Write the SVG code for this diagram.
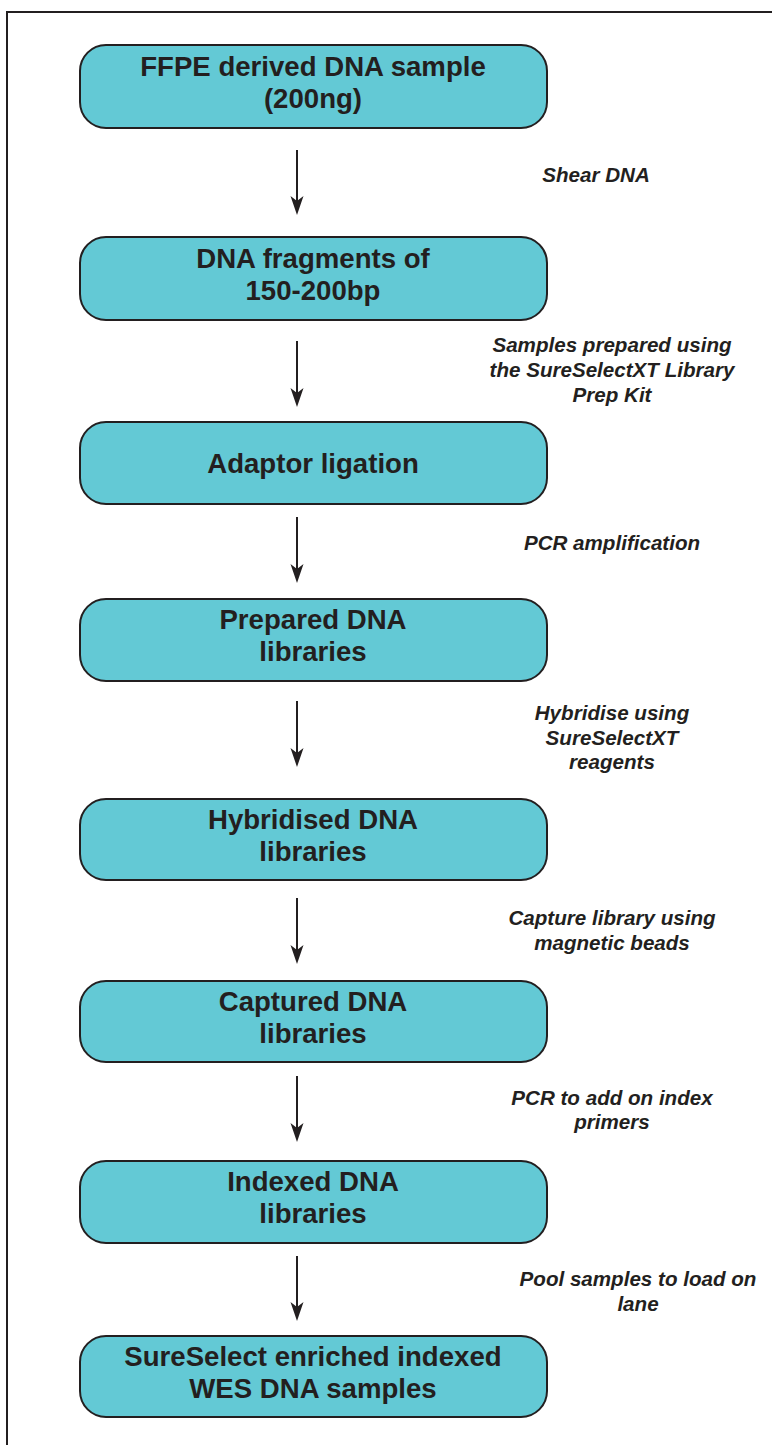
<svg xmlns="http://www.w3.org/2000/svg" width="772" height="1445" viewBox="0 0 772 1445">
<defs>
<style>
.node rect{fill:#63c9d5;stroke:#231f20;stroke-width:2}
.node text{font-family:"Liberation Sans",Arial,sans-serif;font-weight:bold;font-size:27.6px;fill:#231f20;text-anchor:middle}
.lbl{font-family:"Liberation Sans",Arial,sans-serif;font-weight:bold;font-style:italic;font-size:20.6px;fill:#231f20;text-anchor:middle}
.conn line{stroke:#231f20;stroke-width:2}
.conn path{fill:#231f20}
</style>
</defs>
<rect width="772" height="1445" fill="#fff"/>
<rect x="7" y="12" width="800" height="1500" fill="none" stroke="#231f20" stroke-width="2"/>
<g id="n1" class="node"><rect x="80" y="45" width="467" height="83" rx="26"/><text x="313" y="76">FFPE derived DNA sample</text><text x="313" y="108">(200ng)</text></g>
<g id="n2" class="node"><rect x="80" y="237" width="467" height="83" rx="26"/><text x="313" y="268">DNA fragments of</text><text x="313" y="300">150-200bp</text></g>
<g id="n3" class="node"><rect x="80" y="422" width="467" height="82" rx="26"/><text x="313" y="473">Adaptor ligation</text></g>
<g id="n4" class="node"><rect x="80" y="599" width="467" height="82" rx="26"/><text x="313" y="629">Prepared DNA</text><text x="313" y="661">libraries</text></g>
<g id="n5" class="node"><rect x="80" y="799" width="467" height="81" rx="26"/><text x="313" y="829">Hybridised DNA</text><text x="313" y="861">libraries</text></g>
<g id="n6" class="node"><rect x="80" y="981" width="467" height="81" rx="26"/><text x="313" y="1011">Captured DNA</text><text x="313" y="1043">libraries</text></g>
<g id="n7" class="node"><rect x="80" y="1161" width="467" height="82" rx="26"/><text x="313" y="1191">Indexed DNA</text><text x="313" y="1223">libraries</text></g>
<g id="n8" class="node"><rect x="80" y="1336" width="467" height="81" rx="26"/><text x="313" y="1366">SureSelect enriched indexed</text><text x="313" y="1398">WES DNA samples</text></g>
<g id="connectors" class="conn">
<line x1="297" y1="150" x2="297" y2="203"/><path d="M297 215 L290.5 196 L297 201 L303.5 196 Z"/>
<line x1="297" y1="341" x2="297" y2="395"/><path d="M297 407 L290.5 388 L297 393 L303.5 388 Z"/>
<line x1="297" y1="517" x2="297" y2="571"/><path d="M297 583 L290.5 564 L297 569 L303.5 564 Z"/>
<line x1="297" y1="701" x2="297" y2="755"/><path d="M297 767 L290.5 748 L297 753 L303.5 748 Z"/>
<line x1="297" y1="898" x2="297" y2="952"/><path d="M297 964 L290.5 945 L297 950 L303.5 945 Z"/>
<line x1="297" y1="1076" x2="297" y2="1130"/><path d="M297 1142 L290.5 1123 L297 1128 L303.5 1123 Z"/>
<line x1="297" y1="1256" x2="297" y2="1309"/><path d="M297 1321 L290.5 1302 L297 1307 L303.5 1302 Z"/>
</g>
<g id="labels">
<text class="lbl" x="596" y="182">Shear DNA</text>
<text class="lbl" x="612" y="352">Samples prepared using</text>
<text class="lbl" x="612" y="377">the SureSelectXT Library</text>
<text class="lbl" x="612" y="402">Prep Kit</text>
<text class="lbl" x="612" y="550">PCR amplification</text>
<text class="lbl" x="612" y="720">Hybridise using</text>
<text class="lbl" x="612" y="745">SureSelectXT</text>
<text class="lbl" x="612" y="769">reagents</text>
<text class="lbl" x="612" y="925">Capture library using</text>
<text class="lbl" x="612" y="950">magnetic beads</text>
<text class="lbl" x="612" y="1105">PCR to add on index</text>
<text class="lbl" x="612" y="1129">primers</text>
<text class="lbl" x="638" y="1286">Pool samples to load on</text>
<text class="lbl" x="638" y="1311">lane</text>
</g>
</svg>
